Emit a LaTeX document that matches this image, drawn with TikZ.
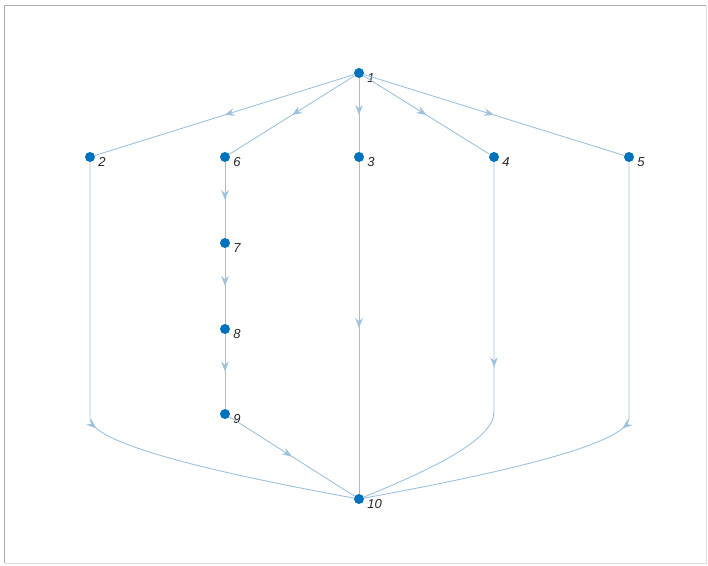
\documentclass[tikz,border=0pt]{standalone}
\usepackage{fontspec}
\setsansfont{Liberation Sans}
\usepackage{tikz}
\usetikzlibrary{arrows.meta,decorations.markings}
\definecolor{nodeblue}{RGB}{0,114,189}
\definecolor{edgeblue}{RGB}{158,193,222}
\definecolor{labelgray}{RGB}{38,38,38}
\tikzset{
  vertex/.style={
    circle,
    fill=nodeblue,
    inner sep=0pt,
    minimum size=10pt
  },
  lbl/.style={
    font=\sffamily\itshape\fontsize{13}{15}\selectfont,
    text=labelgray,
    inner sep=0pt,
    anchor=west,
    xshift=3pt,
    yshift=-5pt
  },
  midarrow/.style={
    postaction={decorate},
    decoration={markings,
      mark=at position 0.5 with {\arrow{Stealth[length=10pt,width=7.5pt]}}}
  },
  link/.style={draw, color=edgeblue, line width=0.9pt, midarrow},
  every edge/.style={link}
}

\begin{document}
\begin{tikzpicture}[x=1pt,y=1pt]
  \useasboundingbox (0,0) rectangle (708,-565);
  \draw[gray!25, line width=1pt] (706,-5.5) -- (706,-563) -- (4.5,-563);
  \draw[gray!65, line width=1.5pt] (4.5,-563) -- (4.5,-5.5) -- (706,-5.5);

  \node[vertex, label={[lbl]0:1}] (n1) at (359,-73) {};
  \node[vertex, label={[lbl]0:2}] (n2) at (90,-157) {};
  \node[vertex, label={[lbl]0:6}] (n6) at (225,-157) {};
  \node[vertex, label={[lbl]0:3}] (n3) at (359,-157) {};
  \node[vertex, label={[lbl]0:4}] (n4) at (494,-157) {};
  \node[vertex, label={[lbl]0:5}] (n5) at (629,-157) {};
  \node[vertex, label={[lbl]0:7}] (n7) at (225,-243) {};
  \node[vertex, label={[lbl]0:8}] (n8) at (225,-329) {};
  \node[vertex, label={[lbl]0:9}] (n9) at (225,-414) {};
  \node[vertex, label={[lbl]0:10}] (n10) at (359,-499) {};

  \path (n1) edge (n2)
        (n1) edge (n6)
        (n1) edge (n3)
        (n1) edge (n4)
        (n1) edge (n5)
        (n6) edge (n7)
        (n7) edge (n8)
        (n8) edge (n9)
        (n9) edge (n10)
        (n3) edge (n10);
  \draw[link] (n2) -- (90,-418) .. controls (90,-442) and (200,-470) .. (n10);
  \draw[link] (n4) -- (494,-412) .. controls (494,-440) and (430,-470) .. (n10);
  \draw[link] (n5) -- (629,-418) .. controls (629,-442) and (518,-470) .. (n10);
\end{tikzpicture}
\end{document}
